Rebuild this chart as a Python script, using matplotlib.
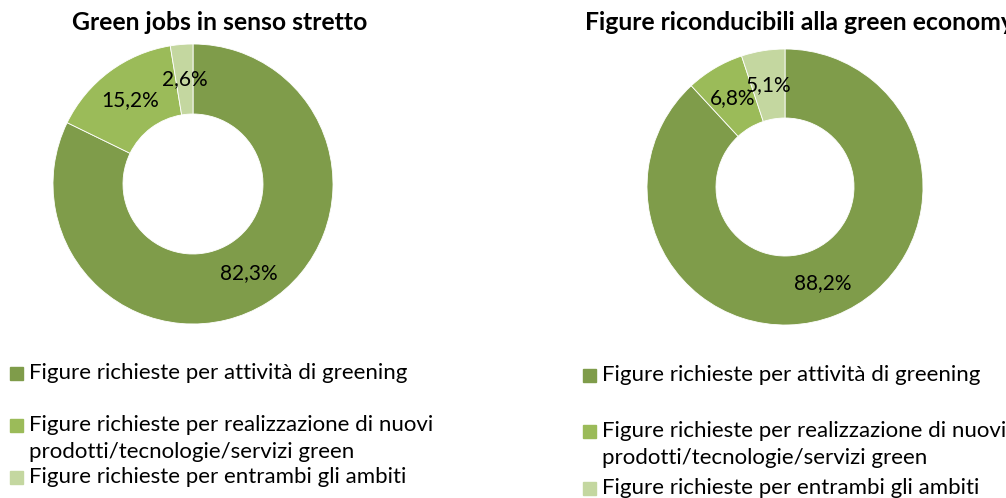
import matplotlib.pyplot as plt
from matplotlib.patches import Rectangle

plt.rcParams['font.family'] = ['Lato', 'DejaVu Sans']

W, H = 1006, 498

categories = ['Figure richieste per attività di greening',
              'Figure richieste per realizzazione di nuovi\nprodotti/tecnologie/servizi green',
              'Figure richieste per entrambi gli ambiti']
left_values = [82.3, 15.2, 2.6]
right_values = [88.2, 6.8, 5.1]
titles = ['Green jobs in senso stretto', 'Figure riconducibili alla green economy']
colors = ['#7F9C4A', '#9BBB59', '#C4D7A0']


def fmt(v):
    return ('%.1f%%' % v).replace('.', ',')


def donut(cx, cy, r, values):
    ax = fig.add_axes([(cx - r) / W, 1 - (cy + r) / H, 2 * r / W, 2 * r / H])
    ax.pie(values, colors=colors, startangle=90, counterclock=False,
           radius=1, wedgeprops=dict(width=0.5, edgecolor='white', linewidth=0.6),
           labels=[fmt(v) for v in values], labeldistance=0.75,
           textprops=dict(fontsize=15, ha='center', va='center', color='black'))
    ax.set_xlim(-1, 1)
    ax.set_ylim(-1, 1)
    ax.set_aspect('equal')
    return ax


def legend(x, ys):
    # ys: centre y (px from top) of the first text line of each entry
    for cat, col, y in zip(categories, colors, ys):
        fig.patches.append(Rectangle((x / W, 1 - (y + 6.5) / H), 13 / W, 13 / H,
                                     transform=fig.transFigure, color=col))
        for i, line in enumerate(cat.split('\n')):
            fig.text((x + 19) / W, 1 - (y + i * 27) / H, line, fontsize=16,
                     va='center')


fig = plt.figure(figsize=(W / 100, H / 100), dpi=100)

donut(193, 184, 140, left_values)
donut(785, 187, 138, right_values)

fig.text(220 / W, 1 - 22 / H, titles[0], fontsize=17.8, fontweight='bold',
         ha='center', va='center')
# the right title runs past the edge, as in the original
fig.text(585 / W, 1 - 22 / H, titles[1], fontsize=17.8, fontweight='bold',
         ha='left', va='center')

legend(10, [373, 425, 477])
legend(583, [375, 431, 488])

fig.savefig('out.png', dpi=100)
